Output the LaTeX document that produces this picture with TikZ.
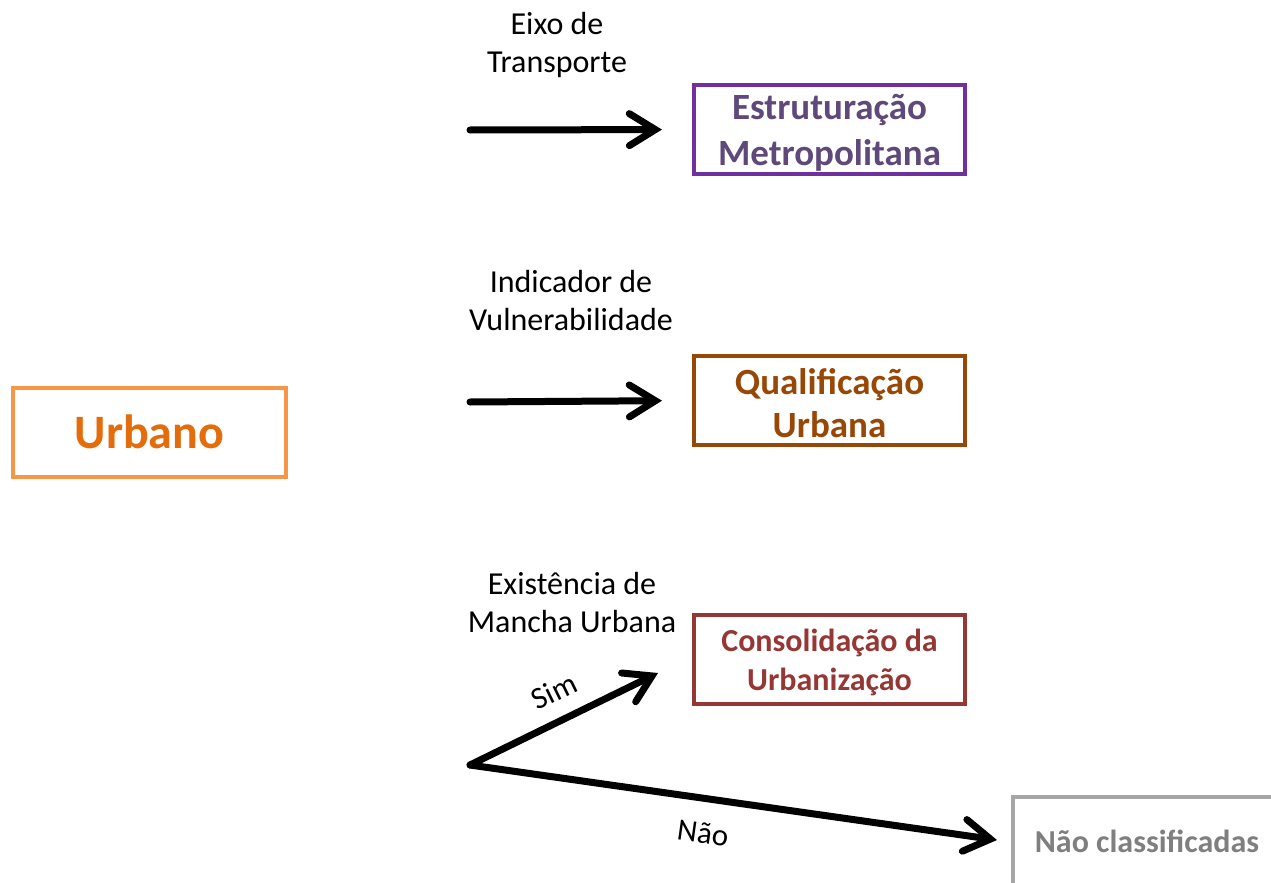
\documentclass[tikz,border=0pt]{standalone}
\usepackage{fontspec}
\setmainfont{Carlito}
\usetikzlibrary{arrows.meta}
\definecolor{orB}{HTML}{F79646}
\definecolor{orT}{HTML}{E46C0A}
\definecolor{puB}{HTML}{7030A0}
\definecolor{puT}{HTML}{5F497A}
\definecolor{brB}{HTML}{984806}
\definecolor{brT}{HTML}{984806}
\definecolor{rdB}{HTML}{953735}
\definecolor{rdT}{HTML}{953735}
\definecolor{grB}{HTML}{A6A6A6}
\definecolor{grT}{HTML}{7F7F7F}
\tikzset{
  box/.style={draw, line width=4pt, minimum width=271pt, minimum height=89pt, align=center, font=\bfseries, inner sep=0pt},
  boxtext/.style={align=center, inner sep=0pt},
  lbl/.style={align=center, font=\fontsize{32}{38}\selectfont, inner sep=0pt},
  arr/.style={line width=7pt, line cap=round, -{Straight Barb[length=26pt,width=32pt,line cap=round]}},
}
\begin{document}
\begin{tikzpicture}[x=1pt,y=-1pt]
\useasboundingbox (0,0) rectangle (1271,883);
\clip (0,0) rectangle (1271,883);
\fill[white] (0,0) rectangle (1271,883);

\node[box, draw=orB, text=orT, minimum width=273pt, font=\bfseries\fontsize{48}{56}\selectfont] (urb) at (149.5,432) {Urbano};

\node[box, draw=puB] (est) at (829.5,129.5) {};
\node[boxtext, text=puT, font=\bfseries\fontsize{37}{46}\selectfont] (estt) at (829.5,133) {Estruturação\\Metropolitana};
\node[box, draw=brB] (qua) at (829.5,400.5) {};
\node[boxtext, text=brT, font=\bfseries\fontsize{37}{43}\selectfont] (quat) at (829.5,403) {Qualificação\\Urbana};
\node[box, draw=rdB] (con) at (829.5,659) {};
\node[boxtext, text=rdT, font=\bfseries\fontsize{32}{39}\selectfont] (cont) at (829.5,662) {Consolidação da\\Urbanização};
\node[box, draw=grB, minimum width=275pt, minimum height=110pt, anchor=north west] (nao) at (1011,795) {};
\node[text=grT, font=\bfseries\fontsize{32}{36}\selectfont, inner sep=0pt] (naot) at (1147,841) {Não classificadas};

\node[lbl] (l1) at (557,45) {Eixo de\\Transporte};
\node[lbl] (l2) at (571,301) {Indicador de\\Vulnerabilidade};
\node[lbl] (l3) at (572,603) {Existência de\\Mancha Urbana};

\coordinate (s1) at (470,130);
\coordinate (s2) at (470,402);
\coordinate (s3) at (470,765);
\coordinate (e3a) at (658,673);
\coordinate (e3b) at (997,840);

\draw[arr, shorten >=30pt] (s1) -- (est.west);
\draw[arr, shorten >=30pt] (s2) -- (qua.west);
\draw[arr] (s3) -- (e3a);
\draw[arr] (s3) -- (e3b);

\node[font=\fontsize{31}{34}\selectfont, rotate=26, inner sep=0pt] (sim) at (554,691) {Sim};
\node[font=\fontsize{31}{34}\selectfont, rotate=-8, inner sep=0pt] (nao2) at (703,833) {Não};
\end{tikzpicture}
\end{document}
